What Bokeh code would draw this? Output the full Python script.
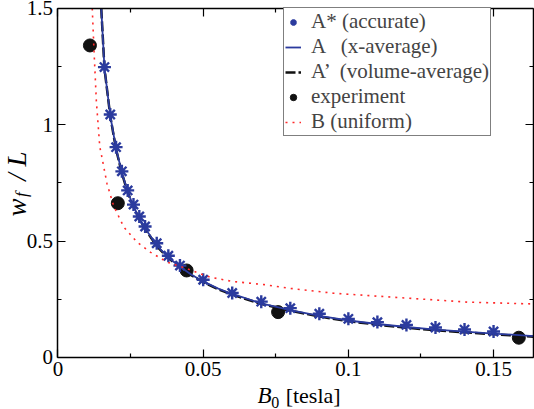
import math
from bokeh.plotting import figure
from bokeh.models import LinearAxis, FixedTicker, Legend, LegendItem, Label, Range1d
from bokeh.embed import file_html
from bokeh.resources import INLINE

# ---- data ----
x_ticks = [0.0, 0.05, 0.1, 0.15]
x_tick_labels = ["0", "0.05", "0.1", "0.15"]
x_minor = [0.025, 0.075, 0.125]
y_ticks = [0.0, 0.5, 1.0, 1.5]
y_tick_labels = ["0", "0.5", "1", "1.5"]
y_minor = [0.25, 0.75, 1.25]
x_lim = (0.0, 0.1638)
y_lim = (0.0, 1.5)

star_x = [0.016, 0.018, 0.020, 0.022, 0.024, 0.026, 0.028, 0.030, 0.034, 0.038, 0.042,
          0.050, 0.060, 0.070, 0.080, 0.090, 0.100, 0.110, 0.120, 0.130, 0.140, 0.150]
star_y = [1.248, 1.044, 0.904, 0.800, 0.718, 0.657, 0.606, 0.563, 0.491, 0.437, 0.395,
          0.334, 0.277, 0.240, 0.212, 0.188, 0.166, 0.152, 0.140, 0.129, 0.120, 0.112]

exp_x = [0.011, 0.0206, 0.0443, 0.0758, 0.1587]
exp_y = [1.341, 0.663, 0.374, 0.195, 0.085]

a_x = [0.0149, 0.016, 0.018, 0.020, 0.022, 0.024, 0.026, 0.028, 0.030, 0.034, 0.038, 0.042,
       0.046, 0.050, 0.055, 0.060, 0.070, 0.080, 0.090, 0.100, 0.110, 0.120, 0.130, 0.140,
       0.150, 0.1638]
a_y = [1.5, 1.245, 1.04, 0.898, 0.795, 0.713, 0.65, 0.598, 0.555, 0.482, 0.43, 0.39,
       0.356, 0.327, 0.297, 0.273, 0.233, 0.204, 0.179, 0.159, 0.144, 0.131, 0.12, 0.111,
       0.103, 0.092]

av_x = [0.0149, 0.016, 0.018, 0.020, 0.022, 0.024, 0.026, 0.028, 0.030, 0.034, 0.038, 0.042,
        0.046, 0.050, 0.055, 0.060, 0.070, 0.080, 0.090, 0.100, 0.110, 0.120, 0.130, 0.140,
        0.150, 0.1638]
av_y = [1.5, 1.243, 1.037, 0.895, 0.792, 0.71, 0.647, 0.595, 0.552, 0.479, 0.427, 0.387,
        0.353, 0.324, 0.294, 0.27, 0.23, 0.201, 0.176, 0.156, 0.141, 0.128, 0.117, 0.108,
        0.100, 0.089]

b_x = [0.0118, 0.0124, 0.0132, 0.0144, 0.0149, 0.0169, 0.0192, 0.0227, 0.0273, 0.0319,
       0.0376, 0.0445, 0.049, 0.0525, 0.060, 0.071, 0.080, 0.095, 0.118, 0.141, 0.1638]
b_y = [1.5, 1.32, 1.104, 0.904, 0.875, 0.746, 0.650, 0.560, 0.495, 0.452,
       0.410, 0.381, 0.360, 0.345, 0.327, 0.313, 0.297, 0.276, 0.257, 0.238, 0.230]

legend_labels = ["A* (accurate)", "A   (x-average)", "A\u2019  (volume-average)",
                 "experiment", "B (uniform)"]

# ---- styles ----
FONT = "Liberation Serif, DejaVu Serif, serif"
BLUE = "#2b3b9e"
RED = "#ff2a2a"
BLACK = "#111111"

# The frame fills the whole canvas; axes sit at fixed data locations inside it.
p = figure(width=534, height=409, x_range=Range1d(-0.0198, 0.1641),
           y_range=Range1d(-0.2235, 1.5342),
           output_backend="svg", toolbar_location=None,
           x_axis_type=None, y_axis_type=None,
           min_border_left=0, min_border_right=0, min_border_top=0, min_border_bottom=0)
p.outline_line_color = None
p.xgrid.visible = False
p.ygrid.visible = False
p.background_fill_color = "white"
p.border_fill_color = "white"


def style_axis(ax, show):
    ax.axis_line_width = 1.5
    ax.axis_line_color = "black"
    ax.major_tick_in = 8
    ax.major_tick_out = 0
    ax.minor_tick_in = 4
    ax.minor_tick_out = 0
    ax.major_tick_line_width = 1.2
    ax.minor_tick_line_width = 1.2
    ax.major_tick_line_color = "black"
    ax.minor_tick_line_color = "black"
    if show:
        ax.major_label_text_font = FONT
        ax.major_label_text_font_size = "21px"
        ax.major_label_text_color = "black"
    else:
        ax.major_label_text_font_size = "1px"
        ax.major_label_text_color = None
        ax.major_label_standoff = 0


xb = LinearAxis(ticker=FixedTicker(ticks=x_ticks, minor_ticks=x_minor),
                major_label_overrides=dict(zip(x_ticks, x_tick_labels)),
                fixed_location=y_lim[0], bounds=x_lim)
style_axis(xb, True)
xb.major_label_standoff = 5
xt = LinearAxis(ticker=FixedTicker(ticks=x_ticks, minor_ticks=x_minor),
                fixed_location=y_lim[1], bounds=x_lim)
style_axis(xt, False)
yl = LinearAxis(ticker=FixedTicker(ticks=y_ticks, minor_ticks=y_minor),
                major_label_overrides=dict(zip(y_ticks, y_tick_labels)),
                fixed_location=x_lim[0], bounds=y_lim)
style_axis(yl, True)
yl.major_label_standoff = 5
yr = LinearAxis(ticker=FixedTicker(ticks=y_ticks, minor_ticks=y_minor),
                fixed_location=x_lim[1], bounds=y_lim)
style_axis(yr, False)
p.add_layout(xb, "below")
p.add_layout(xt, "above")
p.add_layout(yl, "left")
p.add_layout(yr, "right")

r_exp = p.scatter(exp_x, exp_y, marker="circle", size=13, fill_color=BLACK, line_color=BLACK)
r_av = p.line(av_x, av_y, line_color=BLACK, line_width=2.5, line_dash="10 3")
r_a = p.line(a_x, a_y, line_color=BLUE, line_width=1.8)
r_star = p.scatter(star_x, star_y, marker="asterisk", size=13, line_color=BLUE, line_width=2.4)
r_b = p.line(b_x, b_y, line_color=RED, line_width=1.6, line_dash="2 5")

legend = Legend(items=[LegendItem(label=legend_labels[0], renderers=[r_star]),
                       LegendItem(label=legend_labels[1], renderers=[r_a]),
                       LegendItem(label=legend_labels[2], renderers=[r_av]),
                       LegendItem(label=legend_labels[3], renderers=[r_exp]),
                       LegendItem(label=legend_labels[4], renderers=[r_b])],
                location=(283, 273), padding=1, spacing=0,
                label_height=22, glyph_height=22, glyph_width=16, label_standoff=10,
                label_text_font=FONT, label_text_font_size="21px",
                border_line_color="black", border_line_width=1.2,
                background_fill_alpha=1.0, margin=0)
p.add_layout(legend, "center")

# axis titles, placed in data units
common = dict(text_font=FONT, text_color="black", text_baseline="alphabetic", text_align="left")
p.add_layout(Label(x=0.0687, y=-0.163, text="B", text_font_style="italic",
                   text_font_size="23px", **common))
p.add_layout(Label(x=0.0734, y=-0.193, text="0", text_font_size="16px", **common))
p.add_layout(Label(x=0.0784, y=-0.163, text="[tesla]", text_font_size="22px", **common))

p.add_layout(Label(x=-0.0140, y=0.606, angle=math.pi / 2, text="w", text_font_style="italic",
                   text_font_size="27px", **common))
p.add_layout(Label(x=-0.0125, y=0.69, angle=math.pi / 2, text="f", text_font_style="italic",
                   text_font_size="17px", **common))
p.add_layout(Label(x=-0.0140, y=0.76, angle=math.pi / 2, text="/ L", text_font_style="italic",
                   text_font_size="27px", **common))

open("out.html", "w").write(file_html(p, INLINE))
